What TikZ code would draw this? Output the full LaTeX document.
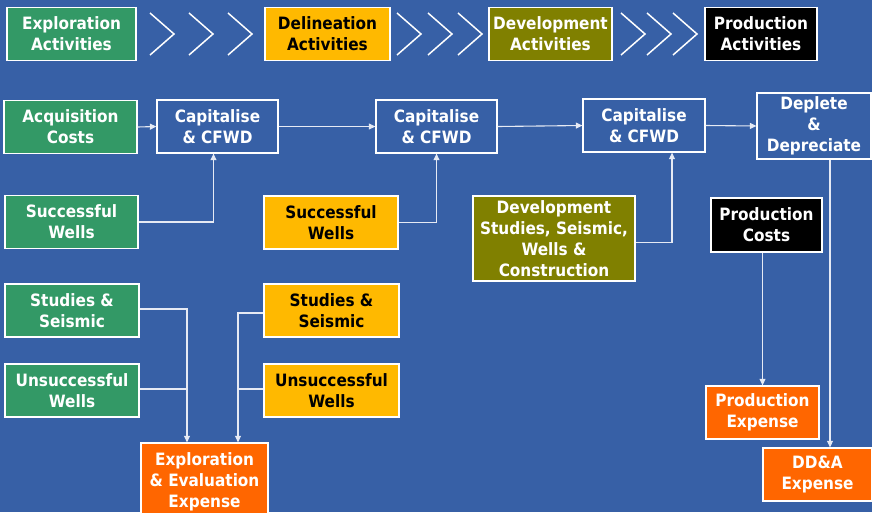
\documentclass[tikz,border=0pt]{standalone}
\usepackage{fontspec}
\setmainfont{DejaVu Sans Condensed}
\usetikzlibrary{arrows,arrows.meta,positioning,calc}

\definecolor{slideblue}{RGB}{55,96,166}
\definecolor{explgreen}{RGB}{51,153,102}
\definecolor{delinyellow}{RGB}{255,185,0}
\definecolor{devolive}{RGB}{128,128,0}
\definecolor{expenseorange}{RGB}{255,102,0}
\definecolor{linkgrey}{RGB}{230,234,244}

\begin{document}
\begin{tikzpicture}[x=1pt, y=-1pt,
    font=\fontsize{17}{21}\selectfont\bfseries,
    every node/.style={draw=white, line width=1.3pt, align=center,
        inner sep=0pt, minimum height=53pt},
    explbox/.style={fill=explgreen, text=white},
    delinbox/.style={fill=delinyellow, text=black},
    devbox/.style={fill=devolive, text=white},
    prodbox/.style={fill=black, text=white},
    capbox/.style={fill=slideblue, text=white},
    expbox/.style={fill=expenseorange, text=white},
    link/.style={draw=linkgrey, line width=1.1pt},
    tolink/.style={link, -{Triangle[length=6.5pt, width=6pt]}}]

    \fill[slideblue] (0,0) rectangle (872,512);
    \useasboundingbox (0,0) rectangle (872,512);

    % phases along the top
    \node[explbox, minimum width=129pt] (explAct) at (71.5,34) {Exploration\\Activities};
    \node[delinbox, minimum width=125pt] (delinAct) at (327.5,34) {Delineation\\Activities};
    \node[devbox, minimum width=123pt] (devAct) at (550.5,34) {Development\\Activities};
    \node[prodbox, minimum width=112pt] (prodAct) at (761,34) {Production\\Activities};
    \foreach \cx in {150,189,228,397,428,458,621,647,673}
        \draw[white, line width=1.5pt] (\cx,13) -- (\cx+24,34) -- (\cx,55);

    % capitalised costs
    \node[explbox, minimum width=133pt] (acqCost) at (70.5,127) {Acquisition\\Costs};
    \node[capbox, minimum width=121pt] (cap1) at (217.5,126.5) {Capitalise\\\& CFWD};
    \node[capbox, minimum width=121pt] (cap2) at (436.5,126.5) {Capitalise\\\& CFWD};
    \node[capbox, minimum width=122pt] (cap3) at (644,125.5) {Capitalise\\\& CFWD};
    \node[capbox, minimum width=114pt, minimum height=66pt] (deplete) at (814,126)
        {Deplete\\\&\\Depreciate};

    \node[explbox, minimum width=133pt] (succWellsA) at (71.5,222) {Successful\\Wells};
    \node[delinbox, minimum width=134pt] (succWellsB) at (331,222.5) {Successful\\Wells};
    \node[devbox, minimum width=162pt, minimum height=85pt] (devStudies) at (554,238.5)
        {Development\\Studies, Seismic,\\Wells \&\\Construction};
    \node[prodbox, minimum width=111pt, minimum height=54pt] (prodCosts) at (766.5,225)
        {Production\\Costs};

    % expensed costs
    \node[explbox, minimum width=134pt] (studiesA) at (72,310.5) {Studies \&\\Seismic};
    \node[explbox, minimum width=134pt] (unsuccA) at (72,390.5) {Unsuccessful\\Wells};
    \node[delinbox, minimum width=135pt] (studiesB) at (331.5,310.5) {Studies \&\\Seismic};
    \node[delinbox, minimum width=135pt] (unsuccB) at (331.5,390.5) {Unsuccessful\\Wells};
    \node[expbox, minimum width=127pt, minimum height=77pt] (eeExp) at (204.5,481.5)
        {Exploration\\\& Evaluation\\Expense};
    \node[expbox, minimum width=113pt] (prodExp) at (762.5,412.5) {Production\\Expense};
    \node[expbox, minimum width=109pt] (ddaExp) at (817.5,474.5) {DD\&A\\Expense};

    \coordinate (eeLeft) at ([xshift=-17.5pt]eeExp.north);
    \coordinate (eeRight) at ([xshift=33.5pt]eeExp.north);
    \coordinate (ddaTop) at ([xshift=12.5pt]ddaExp.north);

    \draw[tolink] (acqCost.east) -- 
                  (cap1.west);
    \draw[tolink] (cap1.east) -- 
                  (cap2.west);
    \draw[tolink] (cap2.east) -- 
                  (cap3.west);
    \draw[tolink] (cap3.east) -- 
                  (deplete.west);
    \draw[tolink] (succWellsA.east) -| 
                  ([xshift=-4pt]cap1.south);
    \draw[tolink] (succWellsB.east) -| 
                  (cap2.south);
    \draw[tolink] ([yshift=-4pt]devStudies.east) -| 
                  ([xshift=28pt]cap3.south);
    \draw[tolink] (prodCosts.south -| prodExp.north) -- 
                  (prodExp.north);
    \draw[tolink] (deplete.south -| ddaTop) -- 
                  (ddaTop);
    \draw[tolink] ([yshift=1.5pt]studiesA.east) -| 
                  (eeLeft);
    \draw[link] ([yshift=1.5pt]unsuccA.east) -- 
                ([yshift=1.5pt]unsuccA.east -| eeLeft);
    \draw[tolink] ([yshift=-2.5pt]studiesB.west) -| 
                  (eeRight);
    \draw[link] ([yshift=1.5pt]unsuccB.west) -- 
                ([yshift=1.5pt]unsuccB.west -| eeRight);
\end{tikzpicture}
\end{document}
